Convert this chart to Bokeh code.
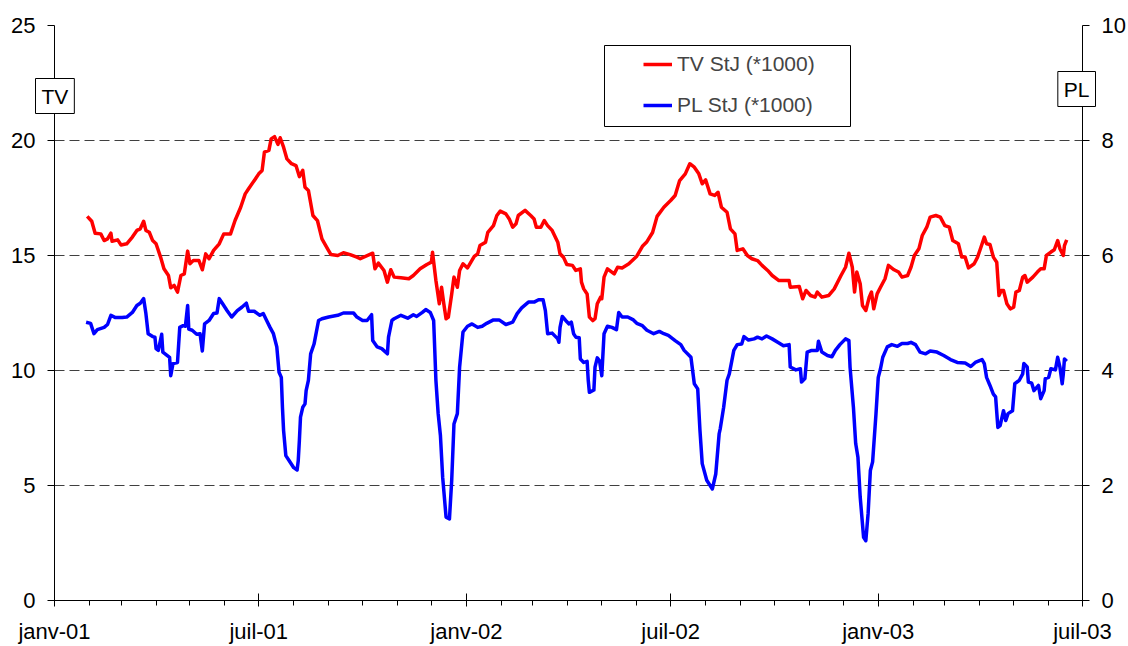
from bokeh.plotting import figure
from bokeh.models import (Range1d, LinearAxis, FixedTicker, Legend, LegendItem,
                          Label, BoxAnnotation, Title)
from bokeh.embed import file_html
from bokeh.resources import INLINE

FONT = "Liberation Sans"

# x axis: days since 1 Jan 2001
TICK_DAYS = [0, 181, 365, 546, 730, 911]
TICK_LABELS = ["janv-01", "juil-01", "janv-02", "juil-02", "janv-03", "juil-03"]
MONTH_DAYS = [0, 31, 59, 90, 120, 151, 181, 212, 243, 273, 304, 334, 365, 396, 424,
              455, 485, 516, 546, 577, 608, 638, 669, 699, 730, 761, 789, 820, 850,
              881, 911]
TV_TICKS = [0, 5, 10, 15, 20, 25]
PL_TICKS = [0, 2, 4, 6, 8, 10]

TV_DAY = [29, 33, 36, 41, 44, 47, 50, 51, 56, 59, 64, 69, 73, 76, 79, 81, 84, 87, 90, 94,
          97, 101, 103, 106, 109, 112, 115, 118, 120, 123, 128, 131, 134, 137, 141, 146,
          150, 156, 160, 165, 169, 172, 178, 181, 184, 186, 190, 192, 195, 198, 200, 203,
          206, 210, 214, 217, 220, 222, 225, 229, 233, 237, 242, 245, 251, 256, 262, 268,
          271, 282, 284, 287, 292, 295, 298, 301, 307, 314, 318, 324, 330, 334, 335, 338,
          341, 343, 345, 347, 349, 352, 354, 357, 359, 362, 366, 369, 372, 375, 377, 382,
          384, 389, 392, 395, 400, 403, 406, 409, 411, 417, 422, 425, 427, 431, 434, 437,
          441, 446, 448, 451, 454, 459, 462, 466, 467, 469, 472, 474, 477, 479, 481, 484,
          485, 487, 490, 496, 499, 503, 509, 516, 521, 525, 530, 534, 540, 546, 550, 554,
          559, 563, 567, 571, 574, 577, 581, 585, 588, 591, 596, 599, 603, 605, 610, 614,
          618, 623, 627, 632, 636, 642, 651, 652, 660, 663, 666, 670, 674, 676, 680, 686,
          691, 697, 701, 704, 707, 709, 711, 714, 716, 719, 722, 724, 726, 729, 732, 736,
          739, 744, 748, 751, 756, 759, 762, 766, 769, 773, 776, 781, 785, 789, 793, 796,
          801, 804, 807, 810, 815, 818, 821, 824, 826, 829, 832, 835, 837, 839, 841, 844,
          847, 850, 852, 855, 858, 860, 862, 867, 871, 874, 877, 879, 883, 886, 889, 891,
          894, 895, 897]
TV_VAL = [16.70, 16.49, 15.97, 15.94, 15.65, 15.72, 15.97, 15.62, 15.68, 15.46, 15.51,
          15.80, 16.09, 16.16, 16.49, 16.09, 16.01, 15.65, 15.51, 14.93, 14.42, 14.13,
          13.60, 13.70, 13.41, 14.13, 14.20, 15.19, 14.64, 14.78, 14.78, 14.38, 15.07,
          14.86, 15.22, 15.51, 15.94, 15.94, 16.52, 17.10, 17.68, 17.90, 18.33, 18.55,
          18.70, 19.49, 19.57, 20.07, 20.17, 19.83, 20.12, 19.71, 19.20, 18.99, 18.91,
          18.43, 18.70, 17.97, 17.83, 16.74, 16.52, 15.72, 15.29, 15.04, 15.00, 15.12,
          15.04, 14.93, 14.86, 15.10, 14.42, 14.67, 14.35, 13.84, 14.38, 14.06, 14.03,
          13.99, 14.13, 14.42, 14.61, 14.71, 15.14, 13.91, 12.90, 13.62, 12.90, 12.25,
          12.32, 13.33, 14.06, 13.62, 14.35, 14.64, 14.46, 14.71, 14.96, 15.07, 15.43,
          15.58, 16.01, 16.30, 16.74, 16.93, 16.81, 16.59, 16.23, 16.38, 16.74, 16.96,
          16.74, 16.59, 16.23, 16.23, 16.52, 16.30, 16.09, 15.58, 15.07, 14.93, 14.61,
          14.57, 14.35, 14.42, 13.84, 13.55, 13.33, 12.32, 12.17, 12.25, 12.90, 13.19,
          13.12, 14.06, 14.42, 14.20, 14.49, 14.46, 14.64, 14.97, 15.40, 15.60, 16.00,
          16.70, 17.10, 17.39, 17.61, 18.26, 18.55, 18.99, 18.84, 18.55, 18.12, 18.29,
          17.68, 17.61, 17.75, 17.10, 16.88, 16.16, 15.94, 15.22, 15.29, 15.00, 14.86,
          14.78, 14.57, 14.35, 14.13, 13.91, 13.91, 13.62, 13.65, 13.12, 13.48, 13.26,
          13.19, 13.41, 13.19, 13.26, 13.55, 14.13, 14.49, 15.10, 14.49, 13.41, 14.28,
          13.77, 12.83, 12.61, 13.19, 13.41, 12.68, 13.33, 13.62, 13.99, 14.57, 14.38,
          14.28, 14.06, 14.13, 14.49, 15.00, 15.29, 15.87, 16.23, 16.67, 16.74, 16.67,
          16.30, 16.23, 15.65, 15.51, 14.93, 14.93, 14.46, 14.64, 14.93, 15.36, 15.80,
          15.51, 15.48, 14.93, 14.71, 13.26, 13.48, 13.48, 12.90, 12.68, 12.75, 13.41,
          13.48, 14.06, 14.13, 13.84, 14.06, 14.28, 14.42, 14.42, 15.00, 15.15, 15.25,
          15.65, 15.29, 15.00, 15.43, 15.68]

PL_DAY = [28, 32, 35, 38, 44, 47, 50, 54, 60, 64, 69, 73, 76, 79, 81, 83, 87, 89, 90, 92,
          95, 96, 100, 102, 103, 105, 109, 111, 114, 116, 118, 119, 122, 126, 129, 131,
          133, 137, 141, 144, 146, 149, 153, 157, 162, 166, 170, 172, 177, 182, 185, 188,
          191, 194, 197, 199, 201, 202, 203, 205, 208, 212, 215, 216, 217, 218, 220, 222,
          223, 225, 227, 230, 234, 237, 243, 251, 256, 265, 268, 273, 277, 281, 282, 286,
          290, 295, 296, 299, 301, 307, 313, 318, 321, 326, 329, 333, 336, 338, 340, 342,
          344, 347, 350, 352, 354, 357, 359, 362, 366, 370, 375, 379, 383, 389, 394, 400,
          406, 410, 414, 420, 425, 429, 433, 435, 437, 441, 446, 447, 448, 450, 453, 456,
          458, 460, 462, 465, 466, 469, 472, 473, 474, 478, 479, 481, 483, 485, 487, 490,
          494, 498, 500, 503, 508, 513, 516, 521, 525, 531, 536, 540, 544, 550, 555, 558,
          564, 567, 570, 572, 574, 578, 583, 586, 589, 590, 593, 596, 598, 602, 605, 609,
          611, 615, 620, 623, 627, 631, 636, 642, 646, 651, 652, 657, 661, 662, 665, 667,
          671, 676, 677, 680, 685, 689, 692, 696, 701, 704, 705, 708, 710, 712, 714, 717,
          719, 721, 723, 725, 728, 730, 732, 734, 738, 742, 747, 751, 756, 759, 763, 767,
          772, 776, 782, 788, 794, 800, 807, 812, 816, 822, 824, 826, 829, 832, 834, 836,
          838, 841, 843, 845, 849, 851, 855, 858, 859, 862, 863, 866, 868, 872, 874, 877,
          878, 881, 883, 887, 889, 891, 893, 894, 895, 897]
PL_VAL = [4.84, 4.82, 4.64, 4.71, 4.75, 4.80, 4.96, 4.92, 4.92, 4.93, 5.01, 5.13, 5.17,
          5.25, 4.99, 4.64, 4.59, 4.58, 4.38, 4.35, 4.63, 4.32, 4.26, 4.23, 3.91, 4.12,
          4.14, 4.75, 4.78, 4.77, 5.13, 4.72, 4.70, 4.63, 4.64, 4.34, 4.81, 4.87, 4.99,
          5.00, 5.25, 5.16, 5.04, 4.93, 5.04, 5.10, 5.17, 5.03, 5.03, 4.96, 4.99, 4.87,
          4.75, 4.64, 4.41, 3.97, 3.88, 3.36, 2.96, 2.52, 2.43, 2.31, 2.27, 2.43, 2.78,
          3.19, 3.36, 3.42, 3.65, 3.83, 4.29, 4.46, 4.87, 4.90, 4.93, 4.96, 5.00, 5.00,
          4.93, 4.87, 4.87, 4.97, 4.52, 4.41, 4.38, 4.29, 4.58, 4.87, 4.90, 4.96, 4.91,
          4.97, 4.94, 5.01, 5.06, 5.01, 4.87, 3.83, 3.25, 2.87, 2.14, 1.45, 1.42, 2.09,
          3.07, 3.25, 4.06, 4.67, 4.77, 4.81, 4.75, 4.77, 4.82, 4.88, 4.88, 4.80, 4.84,
          4.99, 5.09, 5.19, 5.19, 5.23, 5.23, 5.04, 4.64, 4.65, 4.55, 4.49, 4.75, 4.94,
          4.87, 4.81, 4.84, 4.64, 4.58, 4.57, 4.20, 4.14, 4.16, 3.83, 3.62, 3.66, 4.06,
          4.22, 4.17, 3.91, 4.64, 4.77, 4.75, 4.71, 5.01, 4.93, 4.93, 4.88, 4.82, 4.78,
          4.70, 4.64, 4.68, 4.64, 4.61, 4.52, 4.45, 4.35, 4.23, 3.77, 3.68, 2.96, 2.38,
          2.09, 1.94, 2.20, 2.90, 2.99, 3.36, 3.83, 3.94, 4.35, 4.45, 4.46, 4.59, 4.53,
          4.55, 4.58, 4.55, 4.60, 4.55, 4.48, 4.43, 4.45, 4.06, 4.01, 4.03, 3.80, 3.86,
          4.32, 4.35, 4.35, 4.51, 4.32, 4.26, 4.24, 4.35, 4.45, 4.55, 4.52, 4.06, 3.36,
          2.73, 2.49, 1.80, 1.10, 1.04, 1.51, 2.26, 2.41, 3.25, 3.88, 4.03, 4.23, 4.41,
          4.45, 4.42, 4.47, 4.47, 4.49, 4.45, 4.32, 4.29, 4.34, 4.32, 4.26, 4.19, 4.14,
          4.13, 4.07, 4.14, 4.19, 4.12, 3.88, 3.74, 3.59, 3.54, 3.01, 3.04, 3.30, 3.13,
          3.25, 3.30, 3.77, 3.83, 3.94, 4.12, 4.06, 3.80, 3.78, 3.65, 3.74, 3.51, 3.65,
          3.86, 3.88, 4.03, 4.01, 4.23, 4.06, 3.77, 3.94, 4.20, 4.16]

SERIES_NAMES = ["TV StJ (*1000)", "PL StJ (*1000)"]
AXIS_NAMES = ["TV", "PL"]

p = figure(width=1128, height=646, x_range=Range1d(0, 911), y_range=Range1d(0, 25),
           output_backend="svg", toolbar_location=None,
           min_border_left=54, min_border_right=46, min_border_top=25,
           min_border_bottom=46)
p.outline_line_color = None
p.background_fill_color = "white"
p.border_fill_color = "white"
p.extra_y_ranges = {"pl": Range1d(0, 10)}

p.xgrid.visible = False
p.ygrid.ticker = FixedTicker(ticks=TV_TICKS)
p.ygrid.grid_line_color = "#404040"
p.ygrid.grid_line_dash = "10 5"
p.ygrid.grid_line_width = 1

TICK_FONT_SIZE = "22px"

# x axis
xa = p.xaxis[0]
xa.ticker = FixedTicker(ticks=TICK_DAYS, minor_ticks=MONTH_DAYS)
xa.major_label_overrides = {d: l for d, l in zip(TICK_DAYS, TICK_LABELS)}
xa.major_tick_in = 7
xa.major_tick_out = 6
xa.minor_tick_in = 0
xa.minor_tick_out = 5
xa.axis_line_color = "black"
xa.major_tick_line_color = "black"
xa.minor_tick_line_color = "black"
xa.major_label_text_font = FONT
xa.major_label_text_font_size = TICK_FONT_SIZE
xa.major_label_text_color = "black"
xa.major_label_standoff = 12

# left axis
ya = p.yaxis[0]
ya.ticker = FixedTicker(ticks=TV_TICKS)
ya.major_tick_in = 0
ya.major_tick_out = 7
ya.minor_tick_line_color = None
ya.axis_line_color = "black"
ya.major_tick_line_color = "black"
ya.major_label_text_font = FONT
ya.major_label_text_font_size = TICK_FONT_SIZE
ya.major_label_text_color = "black"
ya.major_label_standoff = 12

# right axis
ra = LinearAxis(y_range_name="pl", ticker=FixedTicker(ticks=PL_TICKS))
ra.major_tick_in = 0
ra.major_tick_out = 7
ra.minor_tick_line_color = None
ra.axis_line_color = "black"
ra.major_tick_line_color = "black"
ra.major_label_text_font = FONT
ra.major_label_text_font_size = TICK_FONT_SIZE
ra.major_label_text_color = "black"
ra.major_label_standoff = 12
p.add_layout(ra, "right")

r_tv = p.line(TV_DAY, TV_VAL, line_color="#FF0000", line_width=3.5, line_join="round")
r_pl = p.line(PL_DAY, PL_VAL, line_color="#0000FF", line_width=3.5, line_join="round",
              y_range_name="pl")

# legend frame
p.add_layout(BoxAnnotation(left=550, right=796, bottom=474, top=555,
                           left_units="screen", right_units="screen",
                           bottom_units="screen", top_units="screen",
                           fill_alpha=0, line_color="black", line_alpha=1,
                           line_width=1, level="annotation"))

legend = Legend(items=[LegendItem(label=SERIES_NAMES[0], renderers=[r_tv]),
                       LegendItem(label=SERIES_NAMES[1], renderers=[r_pl])],
                location=(589, 483), padding=0, spacing=17, margin=0,
                glyph_width=29, glyph_height=24, label_standoff=5,
                label_text_font=FONT, label_text_font_size="21px",
                border_line_alpha=0, background_fill_alpha=0)
p.add_layout(legend)

# axis title boxes (placed in the top side panel so they are not clipped to the frame)
box_style = dict(vertical_align="bottom", text_font=FONT, text_font_size="21px",
                 text_font_style="normal", text_color="black",
                 background_fill_color="white", background_fill_alpha=1,
                 border_line_color="black", border_line_alpha=1, border_line_width=1,
                 padding=6)
try:
    t_tv = Title(text=AXIS_NAMES[0], align="left", offset=-19, standoff=-176, **box_style)
    t_pl = Title(text=AXIS_NAMES[1], align="right", offset=-13, standoff=-162, **box_style)
    p.add_layout(t_tv, "above")
    p.add_layout(t_pl, "above")
except Exception:
    for txt, xs, ys in [(AXIS_NAMES[0], 22, 503), (AXIS_NAMES[1], 1003, 510)]:
        p.add_layout(Label(x=xs, y=ys, x_units="screen", y_units="screen", text=txt,
                           text_align="center", text_baseline="middle",
                           text_font=FONT, text_font_size="21px", text_color="black",
                           background_fill_color="white", background_fill_alpha=1,
                           border_line_color="black", border_line_alpha=1,
                           border_line_width=1, padding=6))

open("out.html", "w").write(file_html(p, INLINE))
